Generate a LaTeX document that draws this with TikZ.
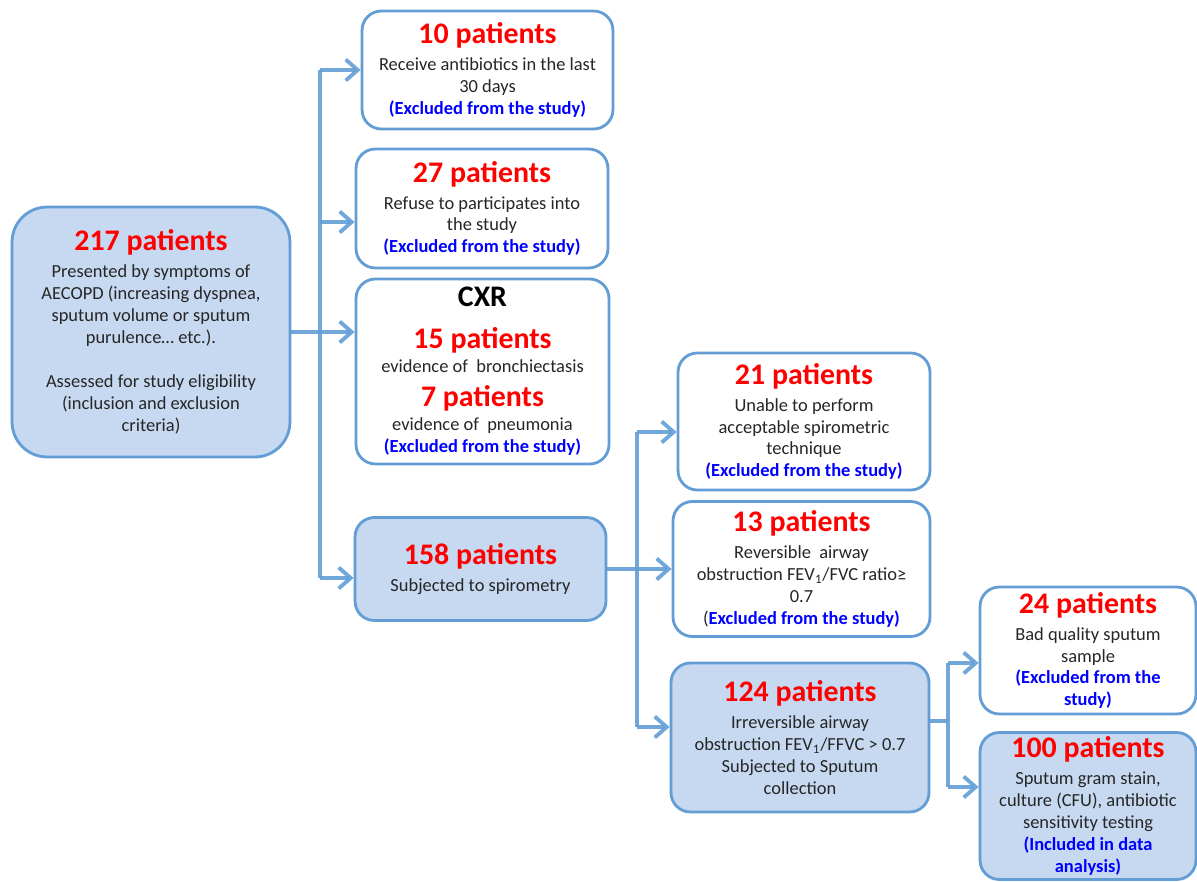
\documentclass[tikz,border=0pt]{standalone}
\usepackage{fontspec}
\setmainfont{Carlito}
\usetikzlibrary{arrows.meta, positioning}

\definecolor{lineblue}{RGB}{98,157,213}
\definecolor{fillblue}{RGB}{198,217,240}
\newcommand{\hd}[1]{{\fontsize{17}{20}\selectfont\bfseries\color{red}#1}}
\newcommand{\excl}[1]{{\bfseries\color{blue}#1}}

\begin{document}
\begin{tikzpicture}[
    x=0.02cm, y=-0.02cm,
    box/.style={rectangle, draw=lineblue, line width=1.6pt, rounded corners=11pt, align=center, inner sep=0pt, font=\fontsize{10.5}{12.5}\selectfont, text=black!85},
    exbox/.style={box, fill=white},
    inbox/.style={box, fill=fillblue},
    link/.style={draw=lineblue, line width=2.2pt, draw opacity=0.9},
    arrow/.style={link, -{Straight Barb[length=2.4mm, width=4.2mm]}}
]
\useasboundingbox (0,0) rectangle (1197,882);

% === First stage: screening ===
\node[inbox, minimum width=5.56cm, minimum height=5cm, rounded corners=20pt] (b217) at (151,332) {
    \hd{217 patients}\\[2.8pt]
    Presented by symptoms of\\
    AECOPD (increasing dyspnea,\\
    sputum volume or sputum\\
    purulence\dots{} etc.).\\[12.5pt]
    Assessed for study eligibility\\
    (inclusion and exclusion\\
    criteria)
};

% === Exclusions (middle column) ===
\node[exbox, minimum width=5.02cm, minimum height=2.36cm] (b10) at (487.5,70) {
    \hd{10 patients}\\[2.8pt]
    Receive antibiotics in the last\\
    30 days\\
    \excl{(Excluded from the study)}
};
\node[exbox, minimum width=5.04cm, minimum height=2.38cm] (b27) at (482,208.5) {
    \hd{27 patients}\\[2.8pt]
    Refuse to participates into\\
    the study\\
    \excl{(Excluded from the study)}
};
\node[exbox, minimum width=5.06cm, minimum height=3.7cm] (bcxr) at (482.5,371.5) {
    {\fontsize{17}{20}\selectfont\bfseries\color{black} CXR}\\[11pt]
    \hd{15 patients}\\[1.5pt]
    evidence of\ \ bronchiectasis\\[6.5pt]
    \hd{7 patients}\\[1.5pt]
    evidence of\ \ pneumonia\\
    \excl{(Excluded from the study)}
};
\node[inbox, minimum width=5.02cm, minimum height=2.06cm] (b158) at (480.5,569) {
    \hd{158 patients}\\[2.8pt]
    Subjected to spirometry
};

% === Spirometry results ===
\node[exbox, minimum width=5.04cm, minimum height=2.74cm] (b21) at (804,421.5) {
    \hd{21 patients}\\[2.8pt]
    Unable to perform\\
    acceptable spirometric\\
    technique\\
    \excl{(Excluded from the study)}
};
\node[exbox, minimum width=5.14cm, minimum height=2.7cm] (b13) at (801.5,569) {
    \hd{13 patients}\\[2.8pt]
    Reversible\ \ airway\\
    obstruction FEV\textsubscript{1}/FVC ratio≥\\
    0.7\\
    (\excl{Excluded from the study)}
};
\node[inbox, minimum width=5.16cm, minimum height=2.98cm] (b124) at (800,737.5) {
    \hd{124 patients}\\[2.8pt]
    Irreversible airway\\
    obstruction FEV\textsubscript{1}/FFVC > 0.7\\
    Subjected to Sputum\\
    collection
};

% === Sputum results ===
\node[exbox, minimum width=4.32cm, minimum height=2.54cm] (b24) at (1088,650.5) {
    \hd{24 patients}\\[2.8pt]
    Bad quality sputum\\
    sample\\
    \excl{(Excluded from the}\\
    \excl{study)}
};
\node[inbox, minimum width=4.32cm, minimum height=2.94cm] (b100) at (1088,806) {
    \hd{100 patients}\\[2.8pt]
    Sputum gram stain,\\
    culture (CFU), antibiotic\\
    sensitivity testing\\
    \excl{(Included in data}\\
    \excl{analysis)}
};

% === Connectors ===
\coordinate (t1top) at (320,70);
\coordinate (t1mid) at (320,222);
\coordinate (t1bot) at (320,578);
\draw[link] (t1top) -- (t1bot);
\draw[arrow] (t1top) -- (b10.west);
\draw[arrow] (t1mid) -- (t1mid -| b27.west);
\draw[arrow] (b217.east) -- (b217.east -| bcxr.west);
\draw[arrow] (t1bot) -- (t1bot -| b158.west);

\coordinate (t2top) at (637,432);
\coordinate (t2bot) at (637,727);
\draw[link] (t2top) -- (t2bot);
\draw[arrow] (t2top) -- (t2top -| b21.west);
\draw[arrow] (b158.east) -- (b13.west);
\draw[arrow] (t2bot) -- (t2bot -| b124.west);

\coordinate (t3top) at (948,663);
\coordinate (t3mid) at (948,721);
\coordinate (t3bot) at (948,787);
\draw[link] (b124.east |- t3mid) -- (t3mid);
\draw[link] (t3top) -- (t3bot);
\draw[arrow] (t3top) -- (t3top -| b24.west);
\draw[arrow] (t3bot) -- (t3bot -| b100.west);

\end{tikzpicture}
\end{document}
